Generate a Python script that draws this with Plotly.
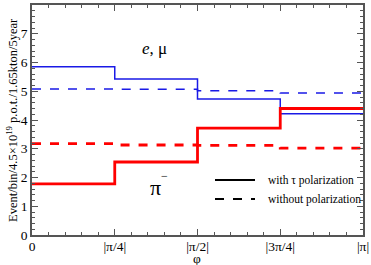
import numpy as np
import plotly.graph_objects as go

# bin edges in phi
edges = [0, np.pi/4, np.pi/2, 3*np.pi/4, np.pi]
tick_vals = [0, np.pi/4, np.pi/2, 3*np.pi/4, np.pi]
tick_text = ["0", "|π/4|", "|π/2|", "|3π/4|", "|π|"]

emu_pol = [5.85, 5.43, 4.73, 4.22]
emu_nopol = [5.08, 5.07, 5.02, 4.94]
pi_pol = [1.78, 2.54, 3.72, 4.40]
pi_nopol = [3.18, 3.13, 3.12, 3.02]

FONT = "Liberation Serif, Times New Roman, serif"
L, R, T, B = 32, 8, 5, 30
PW, PH = 371 - L - R, 265 - T - B

def px(x):
    return (x - L) / PW

def py(y):
    return (265 - B - y) / PH

fig = go.Figure()

def step(vals, color, width, dash):
    fig.add_trace(go.Scatter(x=edges, y=vals + [vals[-1]], mode="lines",
                             line=dict(color=color, width=width, dash=dash, shape="hv"),
                             showlegend=False, hoverinfo="skip"))

step(emu_nopol, "#1a1ae6", 1.5, "dash")
step(emu_pol, "#1a1ae6", 1.5, "solid")
step(pi_nopol, "#ff0000", 2.8, "dash")
step(pi_pol, "#ff0000", 2.8, "solid")

axis_common = dict(showgrid=False, zeroline=False, showline=True, linecolor="#555555",
                   linewidth=1.5, mirror="ticks", ticks="inside", ticklen=6,
                   tickcolor="#555555", automargin=False,
                   tickfont=dict(family=FONT, size=13.5, color="black"))

fig.update_xaxes(range=[0, np.pi], tickvals=tick_vals, ticktext=tick_text,
                 ticklabelstandoff=-2,
                 minor=dict(dtick=np.pi/20, tick0=0, ticks="inside", ticklen=3, tickcolor="#555555"),
                 **axis_common)
fig.update_yaxes(range=[0, 8], dtick=1,
                 minor=dict(dtick=0.2, ticks="inside", ticklen=3, tickcolor="#555555"),
                 **axis_common)

def note(x, y, text, size, xanchor="center", **kw):
    fig.add_annotation(xref="paper", yref="paper", x=px(x), y=py(y), text=text,
                       showarrow=False, xanchor=xanchor, yanchor="middle",
                       font=dict(family=FONT, size=size, color="black"), **kw)

# axis titles
note(197, 258, "φ", 13.5)
note(12, 120, "Event/bin/4.5×10<sup>19</sup> p.o.t./1.65kton/5year", 12.5, textangle=-90)

# legend drawn manually
for yy, dash, txt in [(180, "solid", "with τ polarization"), (199, "dash", "without polarization")]:
    fig.add_shape(type="line", xref="paper", yref="paper",
                  x0=px(215), x1=px(255), y0=py(yy), y1=py(yy),
                  line=dict(color="black", width=2, dash=dash))
    note(266, yy, txt, 11.5, xanchor="left")

note(154, 48, "<i>e</i>, μ", 17)
note(155, 187, "π", 22)
note(164, 176, "−", 12)

fig.update_layout(width=371, height=265, margin=dict(l=L, r=R, t=T, b=B),
                  plot_bgcolor="white", paper_bgcolor="white", showlegend=False)
fig.write_html("out.html", config={"displayModeBar": False},
               post_script="document.body.style.margin='0';document.body.style.overflow='hidden';")
